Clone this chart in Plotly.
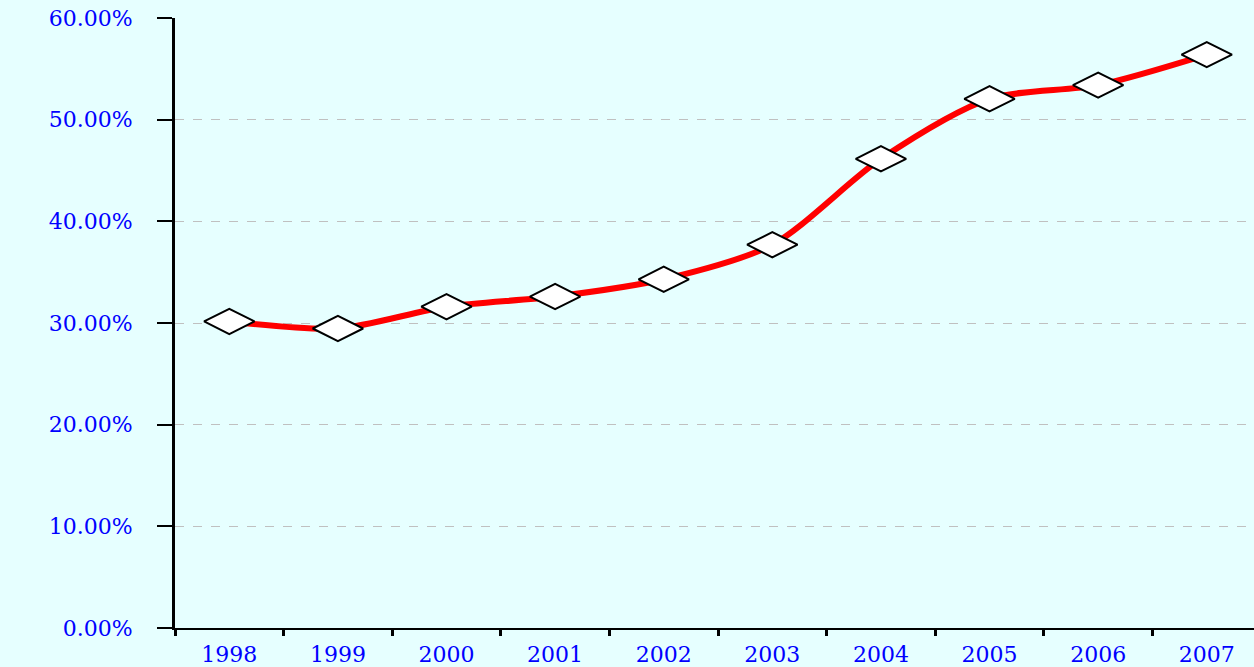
import plotly.graph_objects as go

# Dados
ANOS = ["1998", "1999", "2000", "2001", "2002", "2003", "2004", "2005", "2006", "2007"]
VALORES = [0.3015, 0.2946, 0.3160, 0.3260, 0.3430, 0.3770, 0.4615, 0.5205, 0.5340, 0.5640]
Y_TICKS = [0, 0.1, 0.2, 0.3, 0.4, 0.5, 0.6]

BG_COLOR = "#E6FFFF"
LABEL_COLOR = "#0000FF"
FONT = "DejaVu Serif"

fig = go.Figure()
fig.add_trace(
    go.Scatter(
        x=ANOS,
        y=VALORES,
        mode="lines+markers",
        line=dict(color="#FF0000", width=6, shape="spline", smoothing=0.8),
        marker=dict(
            symbol="diamond-wide",
            size=36,
            color="white",
            line=dict(color="black", width=2),
        ),
        showlegend=False,
    )
)

fig.update_layout(
    paper_bgcolor=BG_COLOR,
    plot_bgcolor=BG_COLOR,
    font=dict(family=FONT, size=22, color=LABEL_COLOR),
    margin=dict(t=18, b=38, l=175, r=0),
)

fig.update_xaxes(
    type="category",
    range=[-0.5, 9.435],
    tickson="boundaries",
    ticks="outside",
    ticklen=6,
    tickwidth=3,
    tickcolor="black",
    ticklabelstandoff=6,
    showline=True,
    linecolor="black",
    linewidth=2,
    showgrid=False,
    zeroline=False,
    tickfont=dict(family=FONT, size=22, color=LABEL_COLOR),
)

fig.update_yaxes(
    range=[0, 0.6],
    tickvals=Y_TICKS,
    tickformat=".2%",
    ticks="outside",
    ticklen=15,
    tickwidth=2,
    tickcolor="black",
    ticklabelstandoff=20,
    showline=True,
    linecolor="black",
    linewidth=3,
    showgrid=True,
    gridcolor="#C0C0C0",
    griddash="dash",
    gridwidth=1,
    zeroline=False,
    tickfont=dict(family=FONT, size=22, color=LABEL_COLOR),
)

# remove a margem branca da página e redimensiona o gráfico
POST_JS = (
    "document.body.style.margin='0';"
    "document.body.style.background='" + BG_COLOR + "';"
    "Plotly.Plots.resize(document.getElementById('{plot_id}'));"
)
fig.write_html("out.html", post_script=POST_JS, config={"displayModeBar": False})
